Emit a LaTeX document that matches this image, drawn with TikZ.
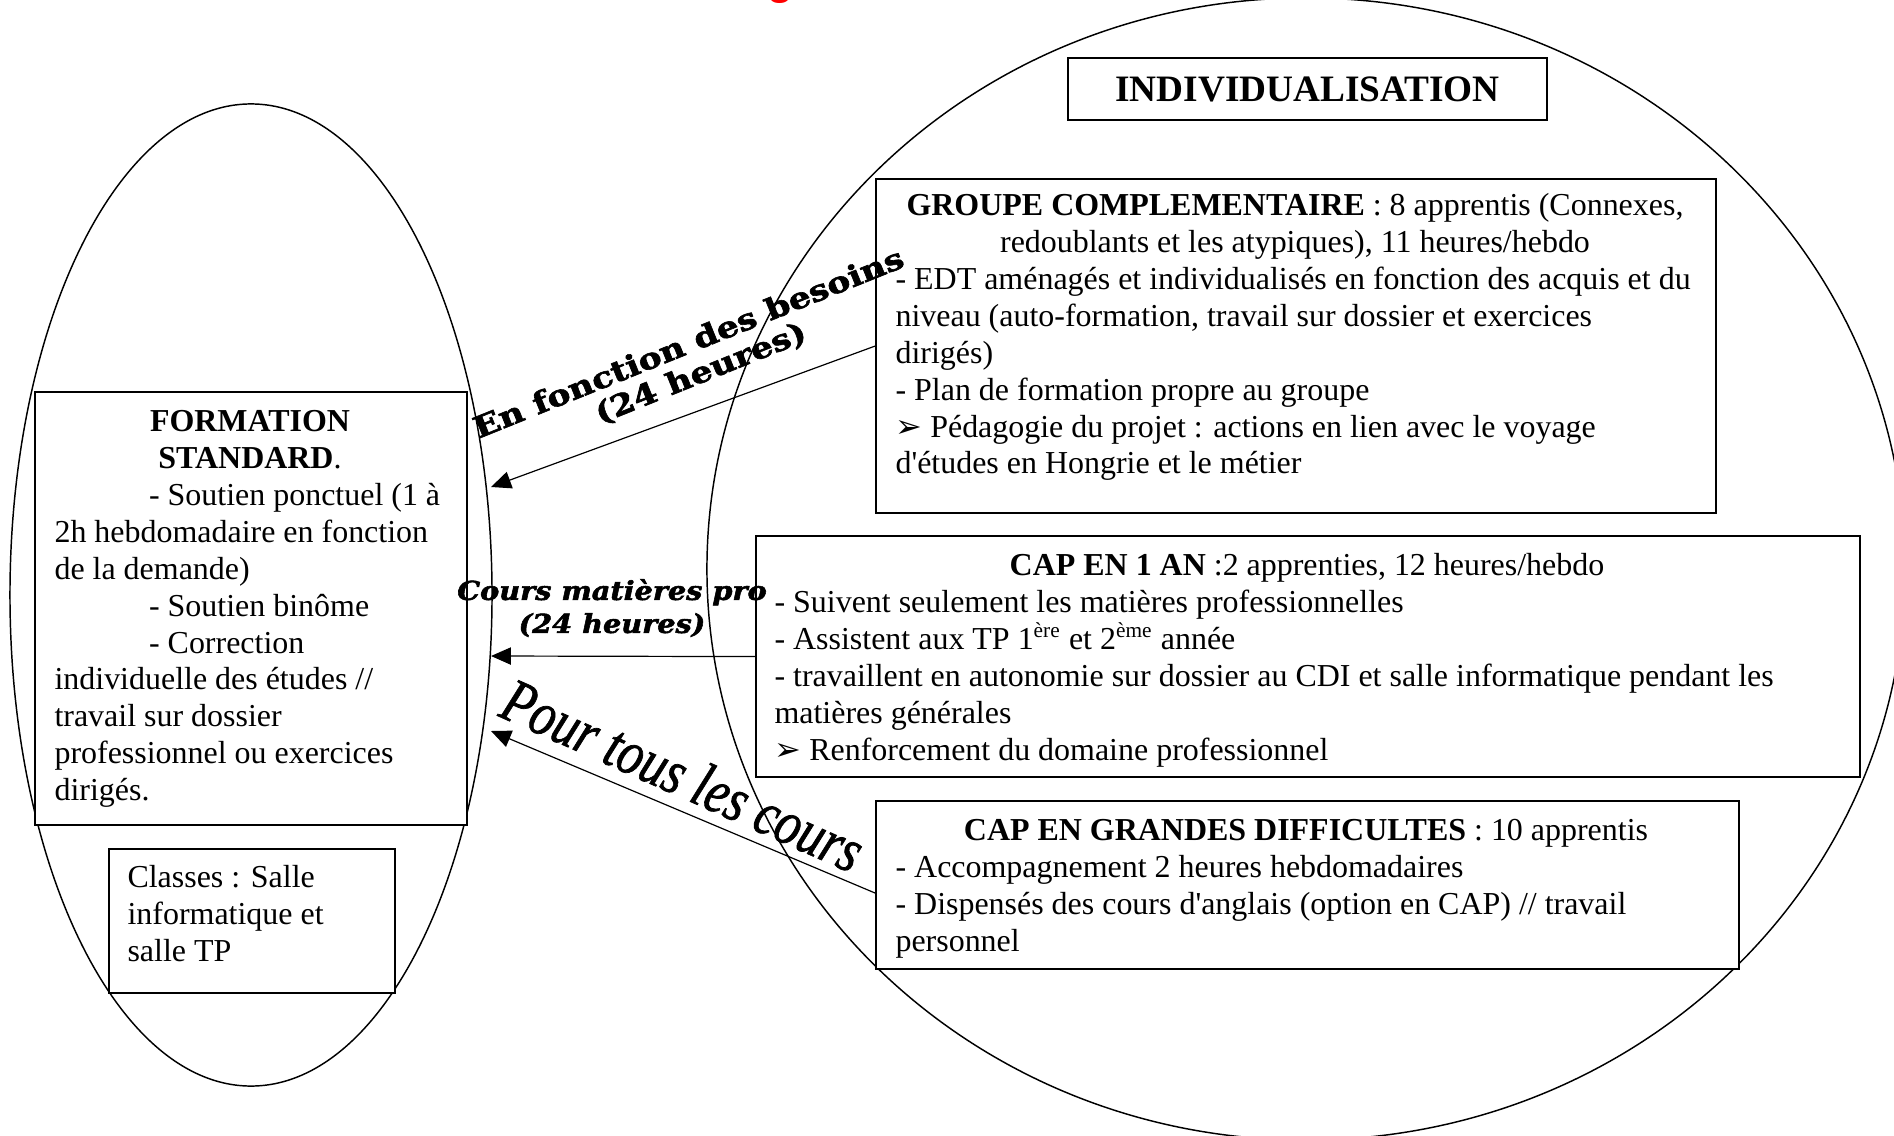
\documentclass[tikz,border=0pt]{standalone}
\usepackage{fontspec}
\usepackage{graphicx}
\setmainfont{Liberation Serif}
\newfontfamily\lblfont[BoldFeatures={FakeBold=2},BoldItalicFeatures={FakeBold=2}]{DejaVu Serif}
\newfontfamily\slantfont[ItalicFeatures={FakeBold=1.2}]{Liberation Serif}
\newfontfamily\symfont{DejaVu Sans}
\newfontfamily\titlefont{Liberation Sans}
\usetikzlibrary{shapes.geometric,arrows.meta,calc}
% arrow-head bullet
\newcommand\ab{{\symfont\fontsize{12}{12}\selectfont ➢}}
% straight apostrophe, set as a glyph so no ligature mapping curls it
\newcommand\q{\XeTeXglyph\XeTeXcharglyph"27\relax}
% strut fixing the first baseline 10pt below a text node's top
\newcommand\fst{\rule{0pt}{10pt}}
\newcommand\ind{\hspace*{35.5pt}}

\begin{document}
\begin{tikzpicture}[x=0.0132cm,y=-0.0132cm,
  box/.style={draw,line width=0.8pt,fill=white,inner sep=0pt,anchor=north west},
  txt/.style={inner sep=0pt,align=left,anchor=north west,font=\fontsize{12}{13.85}\selectfont},
  head/.style={inner sep=0pt,align=center,anchor=north,font=\fontsize{12}{13.85}\selectfont},
  ring/.style={draw,ellipse,line width=0.55pt,inner sep=0pt},
  arr/.style={-{Triangle[length=7.5pt,width=6.5pt]},line width=0.45pt}]
\useasboundingbox (0,0) rectangle (1894,1136);
\fill[white] (0,0) rectangle (1894,1136);

% red title above the page, only its descender shows
\node[red,inner sep=0pt,anchor=south,font=\titlefont\bfseries\fontsize{16}{18}\selectfont] (ttl) at (780,4) {g};

% the two groupings
\node[ring,minimum width=6.3624cm,minimum height=12.9624cm] (lell) at (251,595) {};
\node[ring,minimum width=15.8136cm,minimum height=15.0744cm] (rell) at (1306,569) {};

% boxes
\node[box,minimum width=6.3228cm,minimum height=0.8184cm] (indiv) at (1067,57) {};
\node[box,minimum width=11.088cm,minimum height=4.4088cm] (gc) at (875,178) {};
\node[box,minimum width=5.7024cm,minimum height=5.7156cm] (fs) at (34,391) {};
\node[box,minimum width=3.7752cm,minimum height=1.9008cm] (cls) at (108,848) {};
\node[box,minimum width=14.5728cm,minimum height=3.1812cm] (c1) at (755,535) {};
\node[box,minimum width=11.3916cm,minimum height=2.2176cm] (gd) at (875,800) {};

% box texts
\node[inner sep=0pt,font=\bfseries\fontsize{14}{16}\selectfont] (indivt) at (indiv.center) {INDIVIDUALISATION};

\node[head] (gch) at (1295,188.4) {\fst\textbf{GROUPE COMPLEMENTAIRE} : 8 apprentis (Connexes,\\redoublants et les atypiques), 11 heures/hebdo};
\node[txt] (gcb) at (895,262.4) {\fst- EDT aménagés et individualisés en fonction des acquis et du\\
niveau (auto-formation, travail sur dossier et exercices\\
dirigés)\\
- Plan de formation propre au groupe\\
\ab\ Pédagogie du projet : actions en lien avec le voyage\\
d\q études en Hongrie et le métier};

\node[head] (fsh) at (250,404.4) {\fst\textbf{FORMATION}\\\textbf{STANDARD}.};
\node[txt] (fsb) at (54,478.4) {\fst\ind- Soutien ponctuel (1 à\\
2h hebdomadaire en fonction\\
de la demande)\\
\ind- Soutien binôme\\
\ind- Correction\\
individuelle des études //\\
travail sur dossier\\
professionnel ou exercices\\
dirigés.};

\node[txt] (clst) at (127,860.4) {\fst Classes : Salle\\informatique et\\salle TP};

\node[head] (c1h) at (1307,548.4) {\fst\textbf{CAP EN 1 AN} :2 apprenties, 12 heures/hebdo};
\node[txt] (c1b) at (774,585.4) {\fst- Suivent seulement les matières professionnelles\\
- Assistent aux TP 1\textsuperscript{ère} et 2\textsuperscript{ème} année\\
- travaillent en autonomie sur dossier au CDI et salle informatique pendant les\\
matières générales\\
\ab\ Renforcement du domaine professionnel};

\node[head] (gdh) at (1306,813.4) {\fst\textbf{CAP EN GRANDES DIFFICULTES} : 10 apprentis};
\node[txt] (gdb) at (895,850.4) {\fst- Accompagnement 2 heures hebdomadaires\\
- Dispensés des cours d\q anglais (option en CAP) // travail\\
personnel};

% arrow ends on the left grouping
\coordinate (t1) at (491,487);
\coordinate (t2) at (491,656);
\coordinate (t3) at (491,731);
\coordinate (s3) at ($(gd.north west)+(0,93)$);

\draw[arr] (gc.west) -- (t1);
\draw[arr] (c1.west) -- (t2);
\draw[arr] (s3) -- (t3);

% arrow labels
\node[rotate=22,align=center,inner sep=0pt,font=\lblfont\bfseries\fontsize{11}{12}\selectfont] (l1) at (695,359)
  {\scalebox{1.18}[1]{En fonction des besoins}\\\scalebox{1.18}[1]{(24 heures)}};
\node[align=center,inner sep=0pt,font=\lblfont\bfseries\itshape\fontsize{9.8}{12.4}\selectfont] (l2) at (612,608)
  {\scalebox{1.1}[1]{Cours matières pro}\\\scalebox{1.1}[1]{(24 heures)}};
\node[rotate=-24,inner sep=0pt,font=\slantfont\itshape\fontsize{23.5}{26}\selectfont] (l3) at (683,775)
  {\scalebox{0.8}[1]{Pour tous les cours}};
\end{tikzpicture}
\end{document}
